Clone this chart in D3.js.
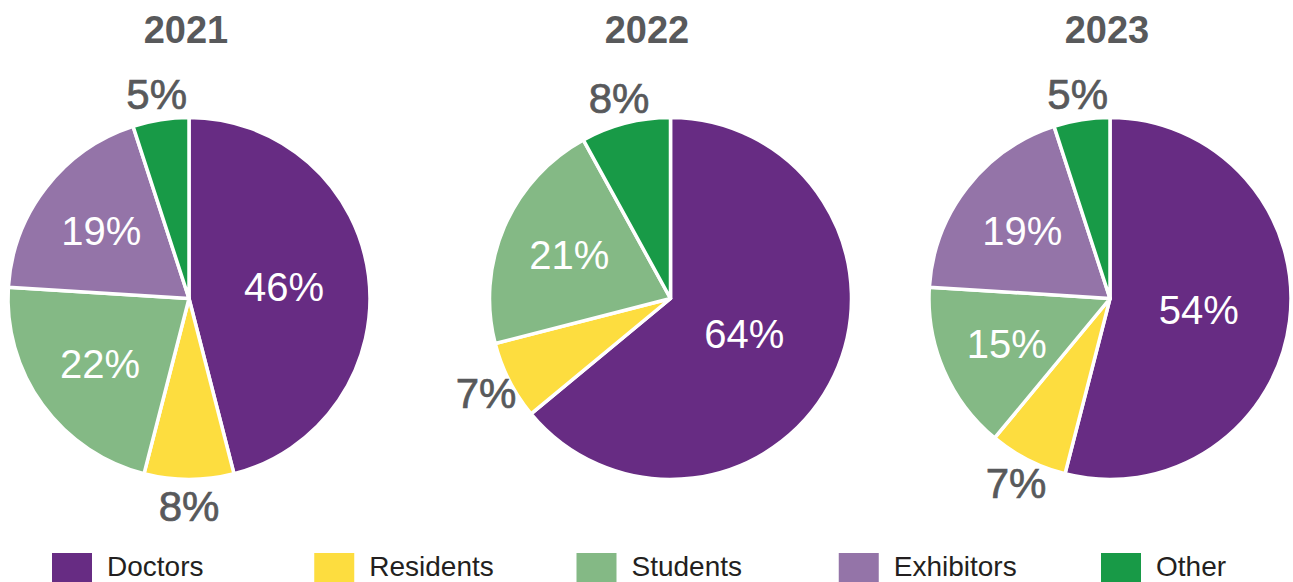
<!DOCTYPE html>
<html>
<head>
<meta charset="utf-8">
<script src="https://cdn.jsdelivr.net/npm/d3@7"></script>
<style>
  html, body { margin: 0; padding: 0; background: #fff; }
  svg { display: block; font-family: "Liberation Sans", Arial, Helvetica, sans-serif; }
</style>
</head>
<body>
<svg id="chart" width="1293" height="582"></svg>
<script>
// categories, clockwise from 12 o'clock
const categories = ["Doctors", "Residents", "Students", "Exhibitors", "Other"];
const colors = ["#672c83", "#fddd3f", "#84b985", "#9474a8", "#189a47"];

const years = ["2021", "2022", "2023"];
const values2021 = [46, 8, 22, 19, 5];
const values2022 = [64, 7, 21, 0, 8];
const values2023 = [54, 7, 15, 19, 5];
const seriesByYear = [values2021, values2022, values2023];

// layout
const width = 1293, height = 582;
const pieCx = [189, 670.5, 1110];
const pieCy = 298.5;
const radius = 181;
const titleX = [186, 647, 1107];

const svg = d3.select("#chart");

const color = d3.scaleOrdinal().domain(categories).range(colors);

const pie = d3.pie()
  .sort(null)
  .value((d) => d.value);

const arc = d3.arc().innerRadius(0).outerRadius(radius);
const outLabelArc = d3.arc().innerRadius(radius + 26).outerRadius(radius + 26);

// inside labels: halfway between 0.6r and the sector's area centroid
function insidePos(d) {
  const half = (d.endAngle - d.startAngle) / 2;
  const areaDist = (2 / 3) * radius * Math.sin(half) / half;
  const dist = (0.6 * radius + areaDist) / 2;
  const a = (d.startAngle + d.endAngle) / 2;
  return [dist * Math.sin(a), -dist * Math.cos(a)];
}

years.forEach((year, i) => {
  const data = categories
    .map((c, j) => ({ category: c, value: seriesByYear[i][j] }))
    .filter((d) => d.value > 0);
  const arcs = pie(data);

  svg.append("text")
    .attr("x", titleX[i])
    .attr("y", 43)
    .attr("text-anchor", "middle")
    .attr("font-size", 38)
    .attr("font-weight", "bold")
    .attr("fill", "#58595b")
    .text(year);

  const g = svg.append("g")
    .attr("transform", `translate(${pieCx[i]},${pieCy})`);

  g.selectAll("path")
    .data(arcs)
    .join("path")
    .attr("d", arc)
    .attr("fill", (d) => color(d.data.category))
    .attr("stroke", "#fff")
    .attr("stroke-width", 3.5)
    .attr("stroke-linejoin", "round");

  g.selectAll("text")
    .data(arcs)
    .join("text")
    .attr("transform", (d) => {
      const c = d.data.value < 10 ? outLabelArc.centroid(d) : insidePos(d);
      return `translate(${c[0]},${c[1]})`;
    })
    .attr("text-anchor", "middle")
    .attr("dy", "0.36em")
    .attr("font-size", (d) => (d.data.value < 10 ? 42 : 40))
    .attr("fill", (d) => (d.data.value < 10 ? "#58595b" : "#fff"))
    .attr("stroke", (d) => (d.data.value < 10 ? "#58595b" : "none"))
    .attr("stroke-width", 0.7)
    .text((d) => d.data.value + "%");
});

// legend
const legendX = d3.scalePoint().domain(categories).range([52, 1101]);

const legend = svg.append("g")
  .selectAll("g")
  .data(categories)
  .join("g")
  .attr("transform", (d) => `translate(${legendX(d)},553)`);

legend.append("rect")
  .attr("width", 40)
  .attr("height", 29)
  .attr("fill", (d) => color(d));

legend.append("text")
  .attr("x", 55)
  .attr("y", 23)
  .attr("font-size", 28)
  .attr("fill", "#231f20")
  .text((d) => d);
</script>
</body>
</html>
